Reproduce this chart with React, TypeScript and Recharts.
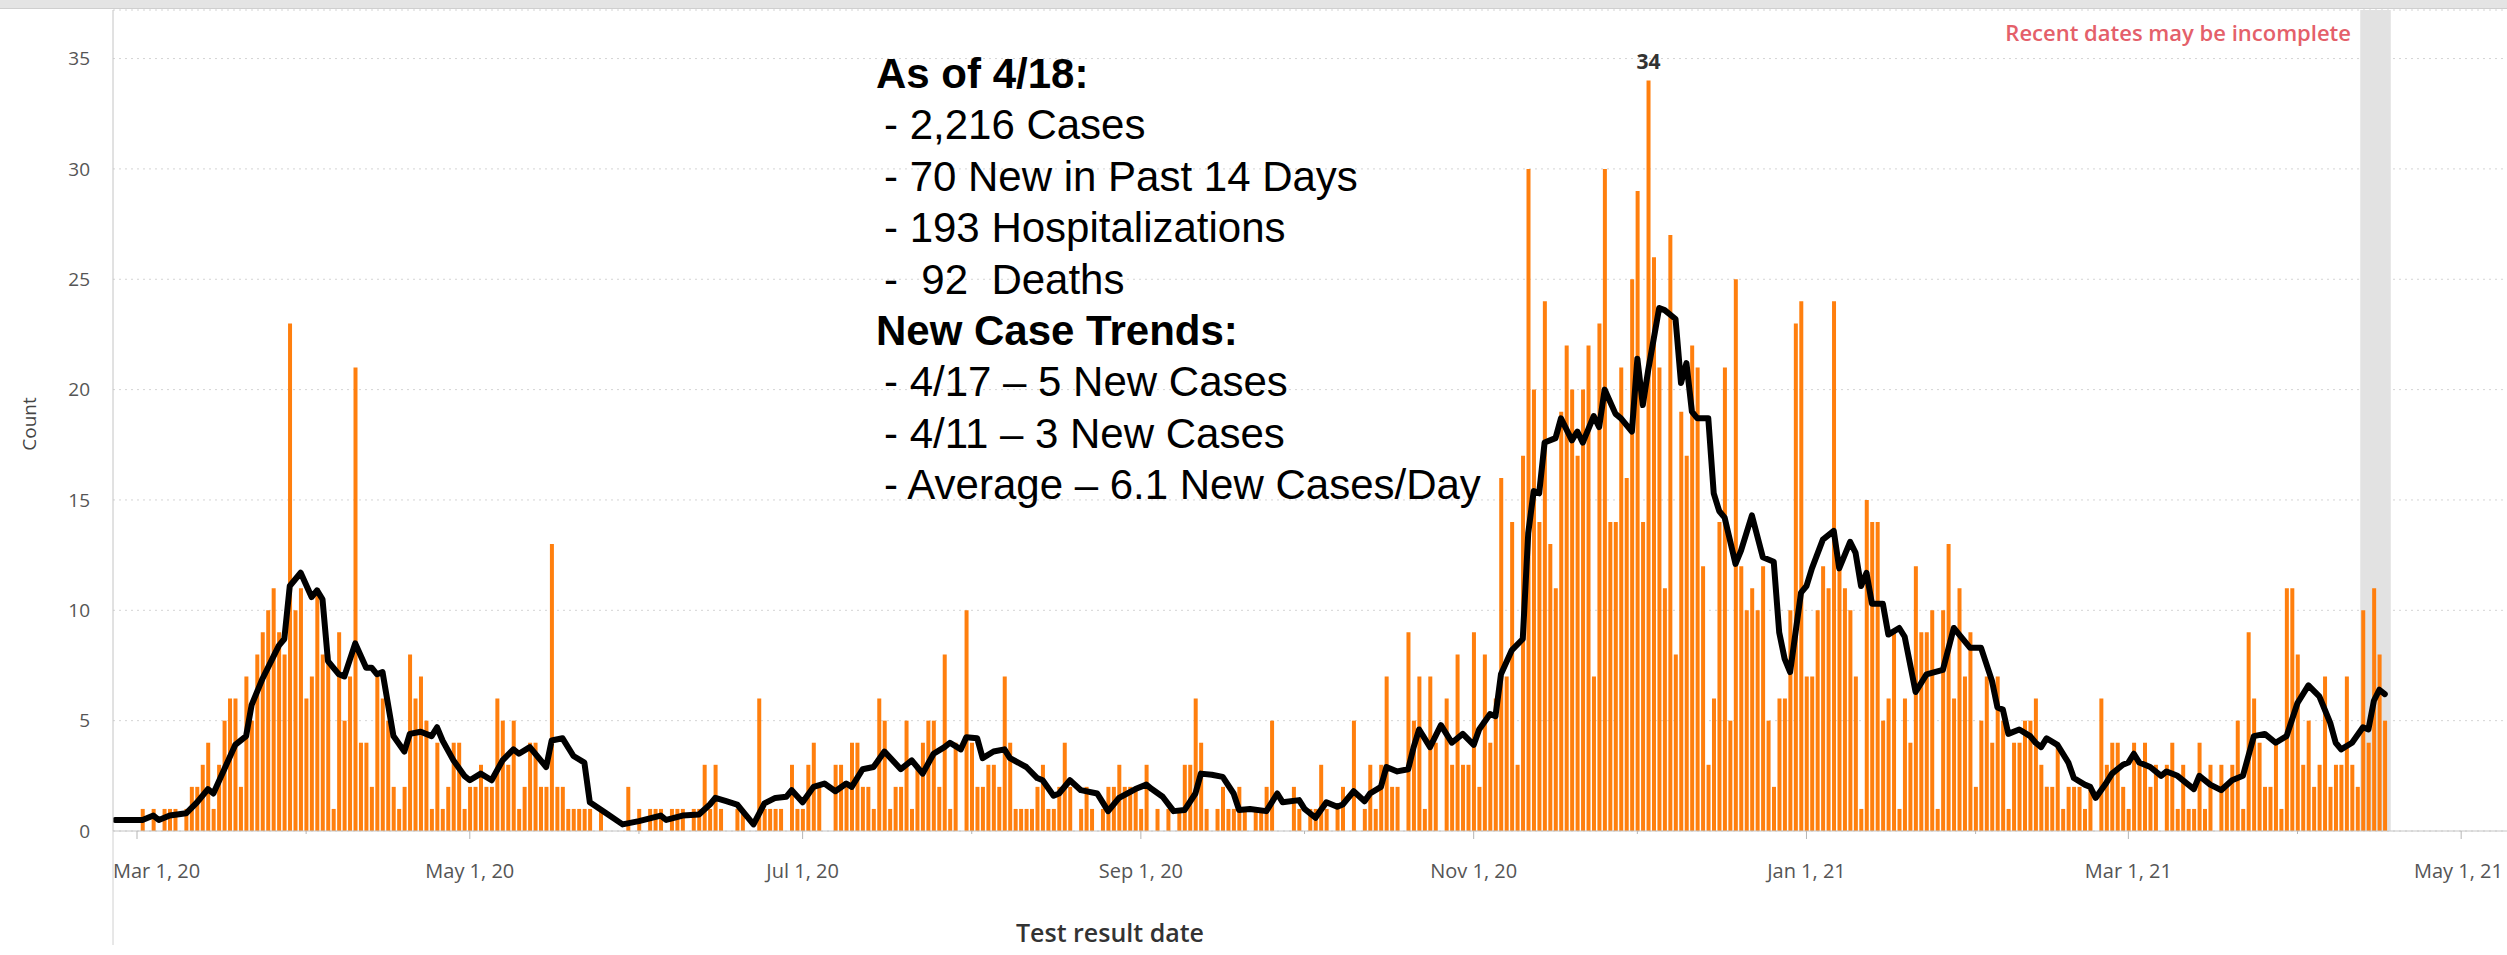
import {
  ComposedChart,
  Bar,
  Line,
  XAxis,
  YAxis,
  CartesianGrid,
  ReferenceArea,
  LabelList,
} from "recharts";

// day 0 = Mar 1, 2020; the first bar is Feb 26, 2020
const firstDay = -4;

// daily new cases (Feb 26, 2020 .. Apr 17, 2021)
const dailyCounts = [
  0, 0, 0, 0,
  0, 1, 0, 1, 0, 1, 1, 1, 0, 1,
  2, 2, 3, 4, 1, 3, 5, 6, 6, 2,
  7, 5, 8, 9, 10, 11, 9, 8, 23, 10,
  11, 6, 7, 11, 8, 8, 1, 9, 5, 7,
  21, 4, 4, 2, 7, 6, 5, 2, 1, 2,
  8, 6, 7, 5, 1, 4, 1, 2, 4, 4,
  1, 2, 2, 3, 2, 2, 6, 5, 3, 5,
  1, 2, 4, 4, 2, 2, 13, 2, 2, 1,
  1, 1, 1, 1, 0, 1, 0, 0, 0, 0,
  2, 0, 1, 0, 1, 1, 1, 0, 1, 1,
  1, 0, 1, 1, 3, 1, 3, 1, 0, 0,
  1, 1, 0, 0, 6, 1, 1, 1, 1, 0,
  3, 1, 1, 3, 4, 2, 0, 0, 3, 3,
  2, 4, 4, 2, 2, 1, 6, 5, 1, 2,
  2, 5, 1, 3, 4, 5, 5, 2, 8, 1,
  4, 0, 10, 4, 2, 2, 3, 3, 2, 7,
  4, 1, 1, 1, 1, 2, 3, 1, 1, 2,
  4, 2, 0, 1, 2, 1, 0, 1, 2, 2,
  3, 2, 2, 2, 1, 3, 0, 1, 0, 1,
  0, 1, 3, 3, 6, 4, 1, 0, 1, 2,
  1, 1, 2, 1, 0, 1, 1, 2, 5, 0,
  0, 0, 2, 1, 0, 1, 1, 3, 1, 0,
  1, 2, 0, 5, 0, 1, 3, 1, 3, 7,
  2, 2, 0, 9, 5, 7, 1, 7, 4, 0,
  6, 3, 8, 3, 3, 9, 2, 8, 4, 6,
  16, 7, 14, 3, 17, 30, 20, 14, 24, 13,
  11, 19, 22, 20, 17, 20, 22, 7, 23, 30,
  14, 14, 21, 16, 25, 29, 14, 34, 26, 21,
  11, 27, 8, 19, 17, 22, 21, 12, 3, 6,
  14, 21, 5, 25, 12, 10, 11, 10, 12, 5,
  2, 6, 6, 10, 23, 24, 7, 7, 10, 12,
  11, 24, 12, 11, 10, 7, 1, 15, 14, 14,
  5, 6, 9, 1, 6, 4, 12, 9, 9, 10,
  1, 10, 13, 6, 11, 7, 9, 2, 5, 7,
  4, 7, 5, 1, 4, 4, 5, 5, 6, 3,
  2, 2, 4, 1, 2, 2, 2, 1, 2, 0,
  6, 3, 4, 4, 2, 1, 4, 3, 4, 2,
  3, 0, 3, 4, 1, 3, 1, 1, 4, 1,
  3, 0, 3, 2, 3, 5, 1, 9, 6, 4,
  2, 2, 4, 1, 11, 11, 8, 3, 5, 2,
  3, 7, 2, 3, 3, 7, 3, 2, 10, 4,
  11, 8, 5,
];

// black trend line as [day, value]
const avgPoints: [number, number][] = [
  [-4, 0.5], [1, 0.5], [3, 0.7], [4, 0.5], [6, 0.7], [9, 0.8], [11, 1.3], [13, 1.9],
  [14, 1.7], [16, 2.8], [18, 3.9], [20, 4.3], [21, 5.7], [23, 6.9], [25, 7.9], [26, 8.4],
  [27, 8.7], [28, 11.1], [30, 11.7], [32, 10.6], [33, 10.9], [34, 10.5], [35, 7.7], [37, 7.1],
  [38, 7.0], [40, 8.5], [42, 7.4], [43, 7.4], [44, 7.1], [45, 7.2], [47, 4.3], [49, 3.6],
  [50, 4.4], [52, 4.5], [54, 4.3], [55, 4.7], [56, 4.1], [58, 3.2], [60, 2.5], [61, 2.3],
  [63, 2.6], [65, 2.3], [67, 3.2], [69, 3.7], [70, 3.5], [72, 3.8], [75, 2.9], [76, 4.1],
  [78, 4.2], [80, 3.4], [82, 3.1], [83, 1.3], [86, 0.8], [89, 0.3], [92, 0.45], [96, 0.7],
  [97, 0.5], [100, 0.7], [103, 0.75], [105, 1.2], [106, 1.5], [108, 1.35], [110, 1.2], [111, 0.9],
  [113, 0.3], [115, 1.25], [117, 1.5], [119, 1.55], [120, 1.85], [122, 1.3], [124, 2.0], [126, 2.15],
  [128, 1.8], [130, 2.15], [131, 2.0], [133, 2.8], [135, 2.9], [137, 3.6], [140, 2.8], [142, 3.2],
  [144, 2.6], [146, 3.5], [148, 3.8], [149, 4.0], [151, 3.7], [152, 4.25], [154, 4.2], [155, 3.3],
  [157, 3.6], [159, 3.7], [160, 3.3], [163, 2.9], [165, 2.4], [166, 2.3], [168, 1.6], [169, 1.7],
  [171, 2.3], [173, 1.85], [176, 1.7], [178, 0.9], [180, 1.5], [183, 1.9], [185, 2.1], [186, 1.9],
  [188, 1.55], [190, 0.9], [192, 0.95], [194, 1.7], [195, 2.6], [197, 2.55], [199, 2.45], [201, 1.7],
  [202, 0.95], [204, 1.0], [207, 0.9], [209, 1.7], [210, 1.3], [213, 1.4], [214, 1.0], [216, 0.6],
  [218, 1.3], [220, 1.1], [221, 1.2], [223, 1.8], [225, 1.35], [226, 1.7], [228, 2.0], [229, 2.9],
  [231, 2.7], [233, 2.8], [234, 3.8], [235, 4.6], [237, 3.8], [239, 4.8], [241, 4.0], [243, 4.4],
  [245, 3.9], [246, 4.6], [248, 5.3], [249, 5.2], [250, 7.1], [252, 8.2], [254, 8.7], [255, 13.5],
  [256, 15.4], [257, 15.3], [258, 17.6], [260, 17.8], [261, 18.7], [263, 17.7], [264, 18.1], [265, 17.6],
  [267, 18.8], [268, 18.3], [269, 20.0], [271, 18.9], [272, 18.7], [274, 18.1], [275, 21.4], [276, 19.3],
  [277, 20.9], [279, 23.7], [280, 23.6], [282, 23.2], [283, 20.3], [284, 21.2], [285, 19.0], [286, 18.7],
  [288, 18.7], [289, 15.3], [290, 14.5], [291, 14.2], [293, 12.1], [294, 12.7], [296, 14.3], [298, 12.4],
  [300, 12.2], [301, 9.0], [302, 7.8], [303, 7.2], [305, 10.8], [306, 11.1], [307, 11.9], [309, 13.2],
  [311, 13.6], [312, 11.9], [314, 13.1], [315, 12.6], [316, 11.1], [317, 11.7], [318, 10.3], [320, 10.3],
  [321, 8.9], [323, 9.2], [324, 8.8], [326, 6.3], [328, 7.1], [331, 7.3], [333, 9.2], [334, 8.9],
  [336, 8.3], [338, 8.3], [340, 6.8], [341, 5.6], [342, 5.5], [343, 4.4], [345, 4.6], [347, 4.3],
  [348, 4.0], [349, 3.8], [350, 4.2], [352, 3.9], [354, 3.1], [355, 2.4], [357, 2.1], [358, 2.0],
  [359, 1.5], [361, 2.2], [362, 2.6], [364, 3.0], [365, 3.1], [366, 3.5], [367, 3.1], [369, 2.9],
  [371, 2.5], [372, 2.7], [374, 2.5], [377, 1.9], [378, 2.5], [380, 2.1], [382, 1.85], [384, 2.3],
  [386, 2.5], [388, 4.3], [390, 4.4], [392, 4.0], [394, 4.3], [396, 5.8], [398, 6.6], [400, 6.1],
  [402, 4.9], [403, 4.0], [404, 3.7], [406, 4.0], [408, 4.7], [409, 4.6], [410, 5.9], [411, 6.4],
  [412, 6.2],
];

// first of each month, in days from Mar 1, 2020
const monthTicks = [0, 31, 61, 92, 122, 153, 184, 214, 245, 275, 306, 337, 365, 396, 426];
const monthLabels: Record<number, string> = {
  0: "Mar 1, 20",
  61: "May 1, 20",
  122: "Jul 1, 20",
  184: "Sep 1, 20",
  245: "Nov 1, 20",
  306: "Jan 1, 21",
  365: "Mar 1, 21",
  426: "May 1, 21",
};
const yTicks = [0, 5, 10, 15, 20, 25, 30, 35];

// shaded "recent dates may be incomplete" window
const incompleteFrom = 407.5;
const incompleteTo = 413.1;

const notes = [
  { text: "As of 4/18:", bold: true },
  { text: "- 2,216 Cases", bold: false },
  { text: "- 70 New in Past 14 Days", bold: false },
  { text: "- 193 Hospitalizations", bold: false },
  { text: "-  92  Deaths", bold: false },
  { text: "New Case Trends:", bold: true },
  { text: "- 4/17 \u2013 5 New Cases", bold: false },
  { text: "- 4/11 \u2013 3 New Cases", bold: false },
  { text: "- Average \u2013 6.1 New Cases/Day", bold: false },
];

const chartData = dailyCounts.map((count, i) => ({ day: firstDay + i, count }));
const avgData = avgPoints.map(([day, avg]) => ({ day, avg }));
const peak = Math.max(...dailyCounts);

const W = 2507;
const H = 955;
const plotLeft = 113;
const plotBottom = 831;
const tableauFont = "'Open Sans', 'Noto Sans', sans-serif";

function MonthTick({ x, y, payload }: any) {
  const label = monthLabels[payload.value];
  let anchor = "middle";
  let tx = x;
  if (label && x - 52 < plotLeft) {
    anchor = "start";
    tx = plotLeft;
  }
  if (label && x + 52 > W) {
    anchor = "end";
    tx = W - 4;
  }
  return (
    <g>
      <line x1={x} x2={x} y1={y} y2={y + (label ? 8 : 3)} stroke="#b5b5b5" strokeWidth={1} />
      {label && (
        <text x={tx} y={y + 47} textAnchor={anchor} fontSize={20} fill="#555" fontFamily={tableauFont}>
          {label}
        </text>
      )}
    </g>
  );
}

function PeakLabel(props: any) {
  const { x, y, width, value } = props;
  if (value !== peak) return null;
  return (
    <text
      x={x + width / 2}
      y={y - 12}
      textAnchor="middle"
      fontSize={21}
      fontWeight={700}
      fill="#333"
      fontFamily={tableauFont}
    >
      {value}
    </text>
  );
}

export default function App() {
  return (
    <div style={{ position: "relative", width: W, height: H, background: "#fff", overflow: "hidden" }}>
      <style>{"body{margin:0}"}</style>
      <ComposedChart
        width={W}
        height={H}
        data={chartData}
        margin={{ top: 10, right: 0, bottom: 0, left: 0 }}
      >
        <CartesianGrid vertical={false} stroke="#d4d4d4" strokeDasharray="2 4" />
        <ReferenceArea
          x1={incompleteFrom}
          x2={incompleteTo}
          fill="#e2e2e2"
          fillOpacity={1}
          stroke="none"
          ifOverflow="extendDomain"
        />
        <XAxis
          dataKey="day"
          type="number"
          domain={[-4.4, 434.4]}
          ticks={monthTicks}
          interval={0}
          height={H - plotBottom}
          tickSize={0}
          tickMargin={0}
          tickLine={false}
          axisLine={{ stroke: "#c4c4c4" }}
          tick={<MonthTick />}
          allowDataOverflow
        />
        <YAxis
          type="number"
          domain={[0, 37.2]}
          ticks={yTicks}
          interval={0}
          width={plotLeft}
          tickSize={0}
          tickMargin={23}
          tickLine={false}
          axisLine={{ stroke: "#c4c4c4" }}
          tick={{ fontSize: 19, fill: "#555", fontFamily: tableauFont }}
          allowDataOverflow
        />
        <Bar dataKey="count" fill="#ff7f0e" barSize={4} isAnimationActive={false}>
          <LabelList dataKey="count" content={PeakLabel} />
        </Bar>
        <Line
          data={avgData}
          dataKey="avg"
          type="linear"
          stroke="#000"
          strokeWidth={6}
          strokeLinejoin="round"
          strokeLinecap="round"
          dot={false}
          activeDot={false}
          isAnimationActive={false}
        />
      </ComposedChart>

      <svg
        width={W}
        height={H}
        style={{ position: "absolute", left: 0, top: 0, pointerEvents: "none" }}
      >
        <rect x={0} y={0} width={W} height={8} fill="#e4e4e4" />
        <line x1={0} x2={W} y1={8.5} y2={8.5} stroke="#cfcfcf" />
        <line x1={plotLeft} x2={plotLeft} y1={plotBottom} y2={945} stroke="#d0d0d0" />
        <text
          x={2351}
          y={41}
          textAnchor="end"
          fontSize={22}
          fontWeight={600}
          fill="#e4606a"
          fontFamily={tableauFont}
        >
          Recent dates may be incomplete
        </text>
        <text
          x={29}
          y={424}
          transform="rotate(-90 29 424)"
          textAnchor="middle"
          dominantBaseline="central"
          fontSize={19}
          fill="#444"
          fontFamily={tableauFont}
        >
          Count
        </text>
        <text
          x={1110}
          y={942}
          textAnchor="middle"
          fontSize={25}
          fontWeight={600}
          fill="#333"
          fontFamily={tableauFont}
        >
          Test result date
        </text>
        {notes.map((n, i) => (
          <text
            key={i}
            x={n.bold ? 876 : 884}
            y={88 + 51.4 * i}
            fontSize={42}
            fontWeight={n.bold ? 700 : 400}
            fill="#000"
            fontFamily="'Liberation Sans', Arial, sans-serif"
            style={{ whiteSpace: "pre" }}
          >
            {n.text}
          </text>
        ))}
      </svg>
    </div>
  );
}
